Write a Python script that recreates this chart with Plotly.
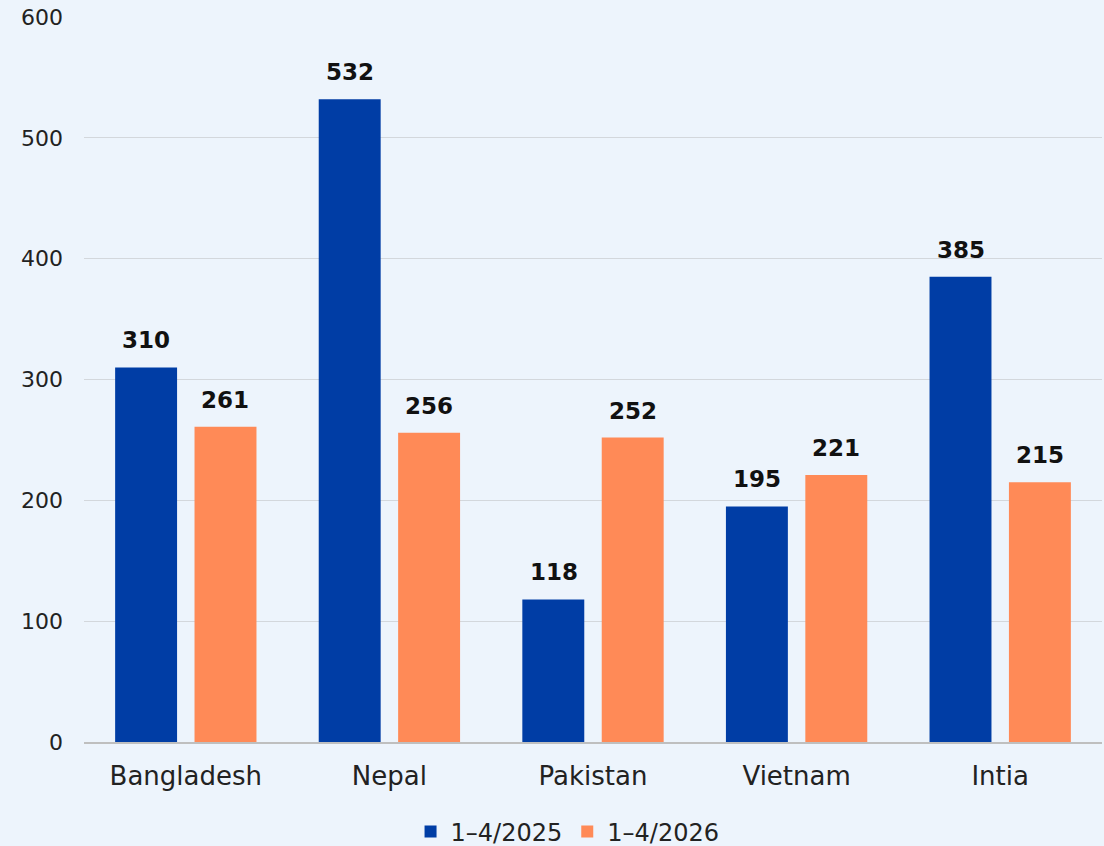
import plotly.graph_objects as go

categories = ["Bangladesh", "Nepal", "Pakistan", "Vietnam", "Intia"]
series_2025 = [310, 532, 118, 195, 385]
series_2026 = [261, 256, 252, 221, 215]
series_names = ["1–4/2025", "1–4/2026"]
colors = ["#003DA5", "#FF8A57"]
y_ticks = [0, 100, 200, 300, 400, 500, 600]

FONT = "DejaVu Sans, sans-serif"
BG = "#EDF4FC"

fig = go.Figure()
for name, vals, col in zip(series_names, [series_2025, series_2026], colors):
    fig.add_trace(go.Bar(x=categories, y=vals, name=name, marker=dict(color=col, line=dict(width=0))))

# bold value labels above bars (group offset of half a bar slot)
for vals, shift in zip([series_2025, series_2026], [-39.5, 39.5]):
    for c, v in zip(categories, vals):
        fig.add_annotation(x=c, y=v, text=f"<b>{v}</b>", showarrow=False,
                           xshift=shift, yshift=27, yanchor="middle",
                           font=dict(family=FONT, size=23, color="#111111"))

fig.update_layout(
    width=1104, height=846,
    paper_bgcolor=BG, plot_bgcolor=BG,
    margin=dict(l=84, r=2, t=17, b=104, autoexpand=False),
    barmode="group", bargap=0.22, bargroupgap=0.22,
    font=dict(family=FONT, size=22, color="#222222"),
    showlegend=True,
    legend=dict(orientation="h", x=0.475, xanchor="center", y=-0.124, yanchor="middle",
                font=dict(family=FONT, size=24, color="#222222"),
                bgcolor="rgba(0,0,0,0)"),
)
fig.update_yaxes(range=[0, 600], tickvals=y_ticks, showgrid=True,
                 gridcolor="#D3D7DC", gridwidth=1,
                 zeroline=False, showline=False,
                 tickfont=dict(family=FONT, size=22, color="#222222"),
                 ticks="", ticklabelstandoff=20)
fig.update_xaxes(showline=True, linecolor="#BFBFBF", linewidth=2,
                 tickfont=dict(family=FONT, size=26, color="#222222"),
                 ticks="", ticklabelstandoff=10)

fig.write_html("out.html", config={"displayModeBar": False},
               post_script="document.body.style.margin='0';")
